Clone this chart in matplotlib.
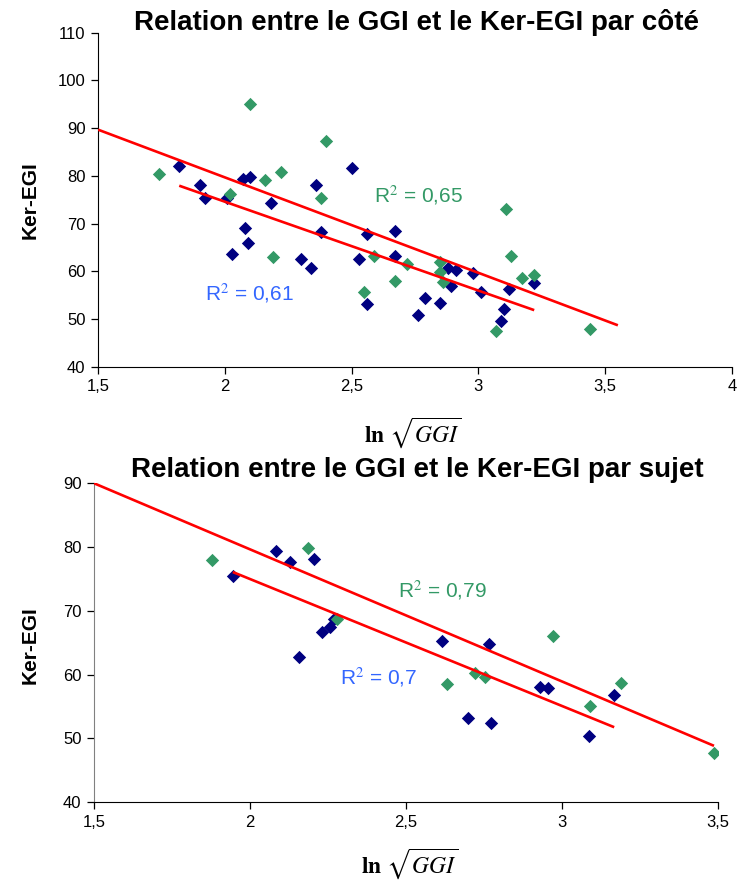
import matplotlib
matplotlib.use("Agg")
import matplotlib.pyplot as plt
from matplotlib.ticker import FuncFormatter, MultipleLocator
import numpy as np

plt.rcParams['font.family'] = ['Liberation Sans', 'DejaVu Sans']
plt.rcParams['mathtext.fontset'] = 'stix'

# --- data: par côté (top chart) ---
cote_bleu_x = [1.82, 1.90, 1.92, 2.01, 2.03, 2.07, 2.08, 2.09, 2.10, 2.18,
               2.30, 2.34, 2.36, 2.38, 2.50, 2.53, 2.56, 2.56, 2.67, 2.67,
               2.76, 2.79, 2.85, 2.88, 2.89, 2.91, 2.98, 3.01, 3.09, 3.10,
               3.12, 3.22]
cote_bleu_y = [82.0, 78.0, 75.3, 75.3, 63.6, 79.3, 69.0, 65.9, 79.7, 74.4,
               62.6, 60.6, 78.0, 68.2, 81.7, 62.6, 53.1, 67.8, 68.5, 63.1,
               50.9, 54.5, 53.4, 60.6, 57.0, 60.3, 59.6, 55.7, 49.5, 52.0,
               56.2, 57.6]
cote_vert_x = [1.74, 2.02, 2.10, 2.16, 2.19, 2.22, 2.38, 2.40, 2.55, 2.59,
               2.67, 2.72, 2.85, 2.85, 2.86, 3.07, 3.11, 3.13, 3.17, 3.22,
               3.44]
cote_vert_y = [80.4, 76.1, 95.1, 79.2, 62.9, 80.9, 75.4, 87.2, 55.7, 63.1,
               58.0, 61.5, 62.0, 59.8, 57.7, 47.5, 73.1, 63.2, 58.5, 59.2,
               47.9]

# --- data: par sujet (bottom chart) ---
sujet_bleu_x = [1.945, 2.084, 2.129, 2.158, 2.207, 2.232, 2.257, 2.268,
                2.615, 2.700, 2.768, 2.772, 2.930, 2.957, 3.088, 3.168]
sujet_bleu_y = [75.4, 79.4, 77.7, 62.8, 78.2, 66.7, 67.4, 68.7,
                65.3, 53.2, 64.8, 52.5, 58.1, 57.9, 50.4, 56.8]
sujet_vert_x = [1.878, 2.185, 2.280, 2.633, 2.722, 2.755, 2.973, 3.091,
                3.189, 3.488]
sujet_vert_y = [77.9, 79.9, 68.7, 58.5, 60.3, 59.7, 66.1, 55.1,
                58.7, 47.8]

# trendline extents (green lines run past the plotted points, as in Excel)
cote_vert_range = (1.5, 3.55)
sujet_vert_range = (1.5, 3.488)
# the "par sujet" green trendline does not match a fit of the visible
# points (some points must lie off-axis), so its slope/intercept are read
# off the picture
sujet_vert_coef = (-20.7, 121.05)

r2_labels = {"cote_vert": "0,65", "cote_bleu": "0,61",
             "sujet_vert": "0,79", "sujet_bleu": "0,7"}

NAVY = "#000080"
GREEN = "#339966"
BLUE_TXT = "#3366FF"
RED = "#FF0000"


def comma(v, pos):
    s = "%g" % v
    return s.replace(".", ",")


def trend(ax, xr, xs=None, ys=None, coef=None):
    if coef is None:
        coef = np.polyfit(xs, ys, 1)
    a, b = coef
    xx = np.array(xr)
    ax.plot(xx, a * xx + b, color=RED, lw=1.9, zorder=4, solid_capstyle='butt')


def style_axes(ax, left_color):
    for s in ("top", "right"):
        ax.spines[s].set_visible(False)
    ax.spines["left"].set_color(left_color)
    ax.spines["bottom"].set_color("black")
    ax.tick_params(direction="out", length=5, width=0.9, labelsize=12,
                   colors="black", pad=4)
    ax.xaxis.set_major_formatter(FuncFormatter(comma))
    ax.yaxis.set_major_locator(MultipleLocator(10))


fig = plt.figure(figsize=(7.42, 8.83), dpi=100)

# ---------- top chart ----------
ax1 = fig.add_axes([0.1322, 0.5847, 0.8543, 0.3783])
ax1.scatter(cote_bleu_x, cote_bleu_y, marker="D", s=46, color=NAVY,
            linewidths=0, zorder=2)
ax1.scatter(cote_vert_x, cote_vert_y, marker="D", s=46, color=GREEN,
            linewidths=0, zorder=3)
trend(ax1, cote_vert_range, cote_vert_x, cote_vert_y)
trend(ax1, (min(cote_bleu_x), max(cote_bleu_x)), cote_bleu_x, cote_bleu_y)
ax1.set_xlim(1.5, 4)
ax1.set_ylim(40, 110)
ax1.xaxis.set_major_locator(MultipleLocator(0.5))
style_axes(ax1, "black")
ax1.text(2.59, 74.5, r"R$^2$ = " + r2_labels["cote_vert"], color=GREEN,
         fontsize=15)
ax1.text(1.92, 54.0, r"R$^2$ = " + r2_labels["cote_bleu"], color=BLUE_TXT,
         fontsize=15)

# ---------- bottom chart ----------
ax2 = fig.add_axes([0.1267, 0.0914, 0.8406, 0.3613])
ax2.scatter(sujet_bleu_x, sujet_bleu_y, marker="D", s=46, color=NAVY,
            linewidths=0, zorder=2)
ax2.scatter(sujet_vert_x, sujet_vert_y, marker="D", s=46, color=GREEN,
            linewidths=0, zorder=3)
trend(ax2, sujet_vert_range, coef=sujet_vert_coef)
trend(ax2, (min(sujet_bleu_x), max(sujet_bleu_x)), sujet_bleu_x, sujet_bleu_y)
ax2.set_xlim(1.5, 3.5)
ax2.set_ylim(40, 90)
ax2.xaxis.set_major_locator(MultipleLocator(0.5))
style_axes(ax2, "#808080")
ax2.text(2.475, 72.2, r"R$^2$ = " + r2_labels["sujet_vert"], color=GREEN,
         fontsize=15)
ax2.text(2.289, 58.5, r"R$^2$ = " + r2_labels["sujet_bleu"], color=BLUE_TXT,
         fontsize=15)

# ---------- titles and axis labels ----------
fig.text(417 / 742, 1 - 22 / 883, "Relation entre le GGI et le Ker-EGI par côté",
         ha="center", va="center", fontsize=20, fontweight="bold")
fig.text(417 / 742, 1 - 470 / 883, "Relation entre le GGI et le Ker-EGI par sujet",
         ha="center", va="center", fontsize=20, fontweight="bold")

for yc in (200, 645):
    fig.text(30 / 742, 1 - yc / 883, "Ker-EGI", rotation=90, ha="center",
             va="center", fontsize=15, fontweight="bold")

xlab = r"$\mathbf{ln}\ \sqrt{GGI}$"
fig.text(413 / 742, 1 - 433 / 883, xlab, ha="center", va="center", fontsize=17)
fig.text(410 / 742, 1 - 864 / 883, xlab, ha="center", va="center", fontsize=17)

fig.savefig("out.png", dpi=100)
